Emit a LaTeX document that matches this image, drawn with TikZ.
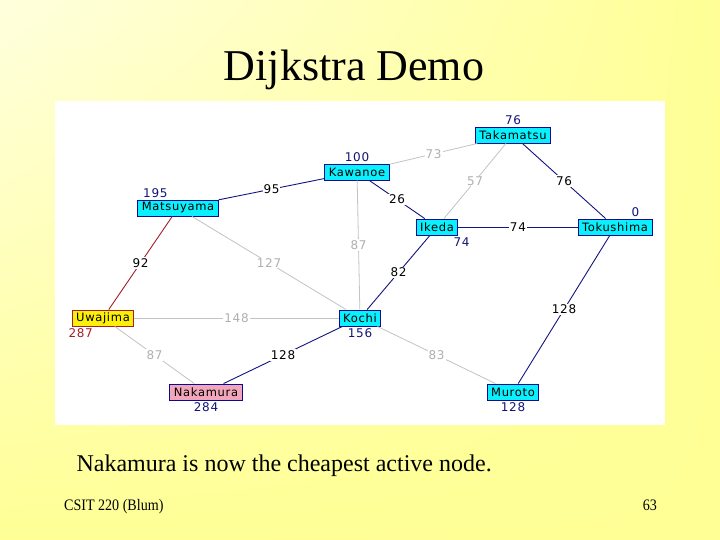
\documentclass[tikz,border=0pt]{standalone}
\usepackage{fontspec}
\setmainfont{Liberation Serif}
\newfontfamily\mapfont[LetterSpace=6]{DejaVu Sans}
\usepackage{xcolor}
\usepackage{tikz}
\usetikzlibrary{positioning, shadings}

\definecolor{slidelight}{RGB}{255,255,222}
\definecolor{slideyellow}{RGB}{255,255,150}
\definecolor{citycyan}{RGB}{10,240,252}
\definecolor{cityedge}{RGB}{10,10,150}
\definecolor{distblue}{RGB}{20,20,120}
\definecolor{pathblue}{RGB}{20,20,130}
\definecolor{roadgray}{RGB}{195,195,195}
\definecolor{costgray}{RGB}{175,175,175}
\definecolor{pathred}{RGB}{165,30,40}
\definecolor{uwafill}{RGB}{252,240,10}
\definecolor{nakafill}{RGB}{242,166,186}

\begin{document}
\begin{tikzpicture}[
  x=1pt, y=-1pt,
  node distance=1pt and 1pt,
  city/.style={rectangle, draw=cityedge, fill=citycyan, line width=0.9pt,
               font=\mapfont\fontsize{11.5}{13}\selectfont, inner xsep=4pt,
               inner ysep=0pt, minimum height=16pt},
  dist/.style={font=\mapfont\fontsize{12}{13}\selectfont, text=distblue, inner sep=1pt},
  road/.style={draw=roadgray, line width=0.8pt},
  used/.style={draw=pathblue, line width=0.9pt},
  cost/.style={midway, fill=white, inner sep=1pt, font=\mapfont\fontsize{12}{13}\selectfont},
  graycost/.style={cost, text=costgray},
]
  % slide background
  \useasboundingbox (0,0) rectangle (720,540);
  \shade[upper left=slidelight, upper right=slideyellow,
         lower left=slideyellow, lower right=slideyellow] (0,0) rectangle (720,540);
  \fill[white] (55,101) rectangle (665,425);

  \node[font=\fontsize{44}{50}\selectfont, anchor=base] (title) at (354,81) {Dijkstra Demo};

  % cities
  \node[city] (taka) at (513,135) {Takamatsu};
  \node[city] (kawa) at (357,172) {Kawanoe};
  \node[city] (matsu) at (178,208) {Matsuyama};
  \node[city] (ikeda) at (437,227) {Ikeda};
  \node[city] (toku) at (615,227) {Tokushima};
  \node[city, fill=uwafill, draw=pathred] (uwa) at (103,318) {Uwajima};
  \node[city] (kochi) at (360,318) {Kochi};
  \node[city, fill=nakafill] (naka) at (206,392) {Nakamura};
  \node[city] (muro) at (513,392) {Muroto};

  % roads
  \draw[road] (taka) -- node[graycost] {73} (kawa);
  \draw[road] (taka) -- node[graycost] {57} (ikeda);
  \draw[used] (taka) -- node[cost] {76} (toku);
  \draw[used] (kawa) -- node[cost] {95} (matsu);
  \draw[used] (kawa) -- node[cost] {26} (ikeda);
  \draw[road] (kawa) -- node[graycost] {87} (kochi);
  \draw[used] (ikeda) -- node[cost] {74} (toku);
  \draw[used] (ikeda) -- node[cost] {82} (kochi);
  \draw[draw=pathred, line width=0.9pt] (matsu) -- node[cost] {92} (uwa);
  \draw[road] (matsu) -- node[graycost] {127} (kochi);
  \draw[road] (uwa) -- node[graycost] {148} (kochi);
  \draw[road] (uwa) -- node[graycost] {87} (naka);
  \draw[used] (kochi) -- node[cost] {128} (naka);
  \draw[road] (kochi) -- node[graycost] {83} (muro);
  \draw[used] (toku) -- node[cost] {128} (muro);

  % distances
  \node[dist, above=of taka] (dtaka) {76};
  \node[dist, above=of kawa] (dkawa) {100};
  \node[dist, above=of matsu.north west, xshift=18pt, anchor=south] (dmatsu) {195};
  \node[dist, below=of ikeda.south east, anchor=north west, xshift=-6pt] (dikeda) {74};
  \node[dist, above=of toku.north east, anchor=south, xshift=-17pt] (dtoku) {0};
  \node[dist, text=pathred, below=of uwa.south west, anchor=north, xshift=9pt] (duwa) {287};
  \node[dist, below=of kochi] (dkochi) {156};
  \node[dist, below=of naka] (dnaka) {284};
  \node[dist, below=of muro] (dmuro) {128};

  \node[font=\fontsize{24}{28}\selectfont, anchor=base west] (note) at (73,471)
       {Nakamura is now the cheapest active node.};
  \node[font=\fontsize{16}{18}\selectfont, xscale=0.88, transform shape, anchor=base west]
       (course) at (61,510) {CSIT 220 (Blum)};
  \node[font=\fontsize{16}{18}\selectfont, xscale=0.88, transform shape, anchor=base east]
       (page) at (660,510) {63};
\end{tikzpicture}
\end{document}
